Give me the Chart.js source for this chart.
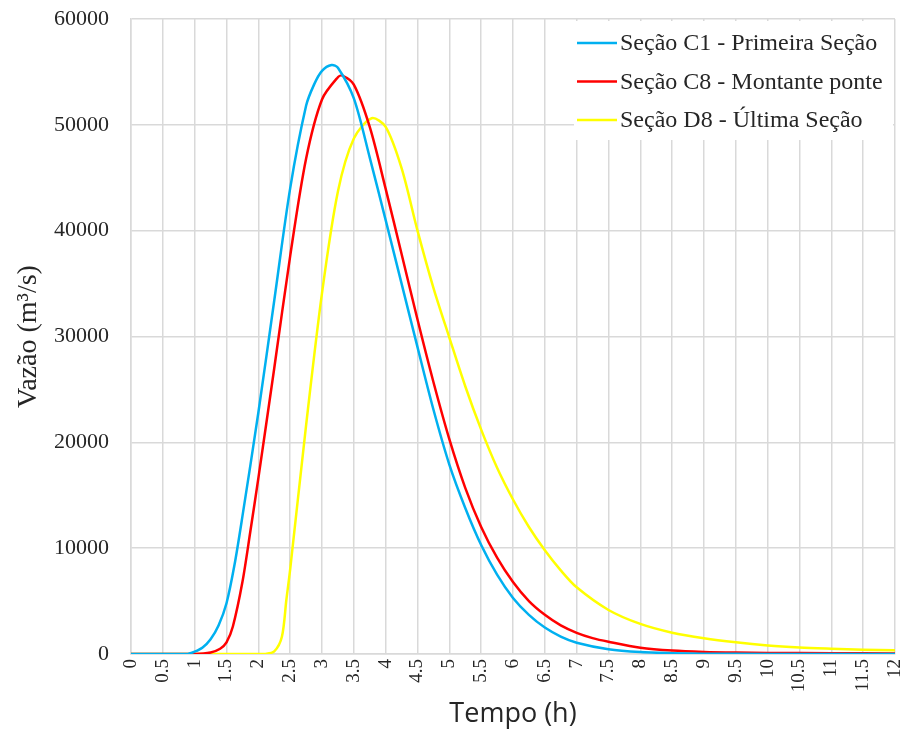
<!DOCTYPE html>
<html>
<head>
<meta charset="utf-8">
<script src="https://cdn.jsdelivr.net/npm/chart.js@4.4.1/dist/chart.umd.min.js"></script>
<style>
  html, body { margin: 0; padding: 0; background: #fff; }
  #wrap { width: 905px; height: 731px; position: relative; }
</style>
</head>
<body>
<div id="wrap"><canvas id="chart"></canvas></div>
<script>
// Hydrographs (time in h, flow in m³/s)
const seriesLabels = [
  'Seção C1 - Primeira Seção',
  'Seção C8 - Montante ponte',
  'Seção D8 - Última Seção'
];
const seriesColors = ['#00b0f0', '#ff0000', '#ffff00'];

const c1Times = [0, 0.5, 0.75, 0.9, 1.0, 1.125, 1.25, 1.375, 1.5, 1.625, 1.75, 2.0, 2.25, 2.5, 2.75, 2.875, 3.0, 3.15, 3.25, 3.5, 3.75, 4.0, 4.25, 4.5, 4.75, 5.0, 5.25, 5.5, 5.75, 6.0, 6.25, 6.5, 6.75, 7.0, 7.5, 8.0, 8.5, 9.0, 10, 11, 12];
const c1Flow  = [0, 0, 0, 30, 220, 620, 1400, 2700, 4800, 8400, 13000, 22800, 33400, 44000, 51800, 53800, 55100, 55650, 55400, 52500, 46900, 41000, 35000, 29000, 23100, 17900, 13800, 10300, 7500, 5300, 3700, 2500, 1650, 1070, 450, 180, 80, 30, 10, 0, 0];

const c8Times = [0, 0.5, 1.0, 1.25, 1.4, 1.5, 1.6, 1.75, 1.875, 2.0, 2.25, 2.5, 2.75, 3.0, 3.25, 3.32, 3.5, 3.75, 4.0, 4.25, 4.5, 4.75, 5.0, 5.25, 5.5, 5.75, 6.0, 6.25, 6.5, 6.75, 7.0, 7.25, 7.5, 8.0, 8.5, 9.0, 9.5, 10, 11, 12];
const c8Flow  = [0, 0, 0, 150, 500, 1100, 2600, 6800, 11600, 16600, 27000, 37600, 46800, 52400, 54500, 54650, 53800, 49800, 43950, 37800, 31600, 25700, 20300, 15700, 12000, 9100, 6800, 5000, 3700, 2700, 2000, 1500, 1160, 600, 320, 190, 130, 100, 70, 50];

const d8Times = [0, 1, 2.0, 2.1, 2.25, 2.37, 2.44, 2.5, 2.75, 3.0, 3.25, 3.5, 3.78, 4.0, 4.25, 4.5, 4.75, 5.0, 5.25, 5.5, 5.75, 6.0, 6.25, 6.5, 6.75, 7.0, 7.5, 8.0, 8.5, 9.0, 9.5, 10, 10.5, 11, 11.5, 12];
const d8Flow  = [0, 0, 0, 0, 250, 1630, 5100, 8000, 21600, 34100, 43700, 48700, 50620, 49800, 45900, 40000, 34600, 29900, 25300, 21200, 17600, 14600, 12000, 9800, 7900, 6300, 4160, 2840, 2010, 1480, 1100, 810, 620, 500, 400, 350];

const xTitle = 'Tempo (h)';
const yTitle = 'Vazão (m³/s)';

const toPoints = (times, flows) => times.map((t, i) => ({ x: t, y: flows[i] }));

const GRID = '#d9d9d9';
const TEXT = '#262626';

// Legend drawn inside the plot area, on a white box over the grid
const legendBox = {
  id: 'legendBox',
  beforeDatasetsDraw(chart) {
    const { ctx, chartArea } = chart;
    const x0 = chartArea.right - 321;
    const y0 = chartArea.top + 2;
    ctx.save();
    ctx.fillStyle = '#fff';
    ctx.fillRect(x0, y0, 319, 119);
    ctx.font = '24px "Liberation Serif", "Times New Roman", serif';
    ctx.textBaseline = 'middle';
    ctx.textAlign = 'left';
    chart.data.datasets.forEach((ds, i) => {
      const y = y0 + 22 + i * 38.5;
      ctx.strokeStyle = ds.borderColor;
      ctx.lineWidth = 2.5;
      ctx.beginPath();
      ctx.moveTo(x0 + 3, y);
      ctx.lineTo(x0 + 43, y);
      ctx.stroke();
      ctx.fillStyle = TEXT;
      ctx.fillText(ds.label, x0 + 46, y + 1);
    });
    ctx.restore();
  }
};

const datasets = [
  toPoints(c1Times, c1Flow),
  toPoints(c8Times, c8Flow),
  toPoints(d8Times, d8Flow)
].map((pts, i) => ({
  label: seriesLabels[i],
  data: pts,
  borderColor: seriesColors[i],
  backgroundColor: seriesColors[i],
  borderWidth: 2.5,
  pointRadius: 0,
  tension: 0.3,
  fill: false
}));

const ctx = document.getElementById('chart').getContext('2d');
new Chart(ctx, {
  type: 'line',
  data: { datasets },
  options: {
    animation: false,
    responsive: true,
    maintainAspectRatio: false,
    layout: { padding: { top: 19, right: 10, left: 0, bottom: 0 } },
    scales: {
      x: {
        type: 'linear',
        min: 0,
        max: 12,
        afterFit(scale) {
          scale.height = 77;
          scale.paddingLeft = 0;
          scale.paddingRight = 0;
        },
        grid: { color: GRID, lineWidth: 1.5, drawTicks: false },
        border: { color: GRID, width: 1.5 },
        ticks: {
          stepSize: 0.5,
          autoSkip: false,
          minRotation: 90,
          maxRotation: 90,
          padding: 5,
          color: TEXT,
          font: { family: '"Liberation Serif", serif', size: 19 },
          callback: v => String(v)
        },
        title: {
          display: true,
          text: xTitle,
          color: TEXT,
          padding: { top: 0, bottom: 0 },
          font: { family: '"Open Sans", sans-serif', size: 27 }
        }
      },
      y: {
        min: 0,
        max: 60000,
        afterFit(scale) {
          scale.width = 131;
          scale.paddingTop = 0;
          scale.paddingBottom = 0;
        },
        grid: { color: GRID, lineWidth: 1.5, drawTicks: false },
        border: { color: GRID, width: 1.5 },
        ticks: {
          stepSize: 10000,
          padding: 22,
          color: TEXT,
          font: { family: '"Liberation Serif", serif', size: 22 },
          callback: v => String(v)
        },
        title: {
          display: true,
          text: yTitle,
          color: TEXT,
          padding: { top: 12, bottom: 0 },
          font: { family: '"Liberation Serif", serif', size: 28 }
        }
      }
    },
    plugins: {
      legend: { display: false },
      tooltip: { enabled: false }
    }
  },
  plugins: [legendBox]
});
</script>
</body>
</html>
